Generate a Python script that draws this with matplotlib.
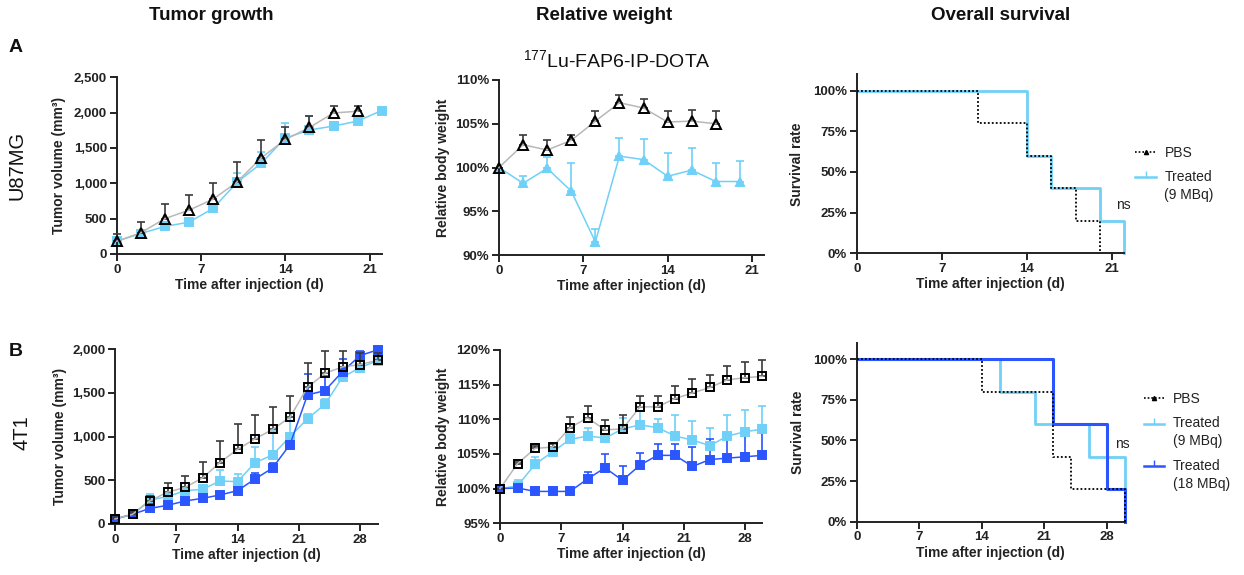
import numpy as np
import matplotlib
matplotlib.use("Agg")
import matplotlib.pyplot as plt
from matplotlib.lines import Line2D
from matplotlib.legend_handler import HandlerLine2D
from matplotlib.ticker import FuncFormatter

plt.rcParams['font.family'] = ['Liberation Sans', 'DejaVu Sans']

# ---------------- data ----------------
# U87MG tumour volume (mm^3), mean and upper SD
u87_tumor_days_pbs = [0, 2, 4, 6, 8, 10, 12, 14, 16, 18, 20]
u87_tumor_pbs = [180, 300, 500, 620, 775, 1020, 1360, 1620, 1790, 1995, 2020]
u87_tumor_pbs_sd = [100, 150, 210, 220, 225, 275, 250, 170, 160, 105, 80]
u87_tumor_days_trt = [0, 2, 4, 6, 8, 10, 12, 14, 16, 18, 20, 22]
u87_tumor_trt = [180, 290, 390, 450, 645, 1015, 1285, 1640, 1755, 1810, 1880, 2030]
u87_tumor_trt_sd = [60, 40, 40, 30, 40, 125, 165, 220, 200, 30, 30, 30]

# U87MG relative body weight (%)
u87_weight_days_pbs = [0, 2, 4, 6, 8, 10, 12, 14, 16, 18]
u87_weight_pbs = [100, 102.6, 102.0, 103.1, 105.3, 107.4, 106.8, 105.2, 105.3, 105.0]
u87_weight_pbs_sd = [0, 1.1, 1.2, 0.6, 1.2, 0.9, 1.0, 1.3, 1.3, 1.5]
u87_weight_days_trt = [0, 2, 4, 6, 8, 10, 12, 14, 16, 18, 20]
u87_weight_trt = [100, 98.2, 99.9, 97.3, 91.5, 101.3, 100.9, 99.0, 99.7, 98.4, 98.4]
u87_weight_trt_sd = [0, 0.8, 1.3, 3.2, 1.5, 2.1, 2.4, 2.7, 2.5, 2.1, 2.3]

# U87MG survival (Kaplan-Meier steps)
u87_surv_t_pbs = [0, 10, 14, 16, 18, 20]
u87_surv_pbs = [100, 80, 60, 40, 20, 0]
u87_surv_t_trt = [0, 14, 16, 20, 22]
u87_surv_trt = [100, 60, 40, 20, 0]

# 4T1 tumour volume (mm^3)
t1_days = [0, 2, 4, 6, 8, 10, 12, 14, 16, 18, 20, 22, 24, 26, 28, 30]
t1_tumor_pbs = [57, 111, 265, 365, 418, 527, 704, 855, 974, 1082, 1222, 1564, 1726, 1798, 1825, 1874]
t1_tumor_pbs_sd = [20, 25, 60, 100, 132, 183, 247, 287, 274, 260, 244, 277, 256, 184, 130, 80]
t1_tumor_lo = [57, 111, 275, 313, 382, 397, 492, 485, 702, 790, 1000, 1205, 1371, 1680, 1790, 1870]
t1_tumor_lo_sd = [15, 20, 69, 40, 40, 40, 126, 88, 184, 280, 270, 60, 60, 60, 40, 40]
t1_tumor_hi = [57, 111, 179, 214, 263, 294, 332, 382, 515, 640, 910, 1478, 1527, 1745, 1928, 1993]
t1_tumor_hi_sd = [15, 20, 25, 25, 25, 25, 30, 30, 73, 60, 60, 237, 170, 141, 54, 20]

# 4T1 relative body weight (%)
t1_weight_pbs = [100, 103.6, 105.8, 106.0, 108.8, 110.2, 108.5, 108.6, 111.8, 111.8, 113.0, 113.8, 114.6, 115.7, 116.0, 116.2]
t1_weight_pbs_sd = [0, 0.3, 0.3, 0.4, 1.5, 1.7, 1.4, 2.0, 1.6, 1.5, 1.8, 2.0, 1.8, 2.0, 2.2, 2.4]
t1_weight_lo = [100, 100.4, 103.5, 105.3, 107.1, 107.6, 107.3, 108.6, 109.2, 108.8, 107.6, 107.0, 106.2, 107.6, 108.2, 108.6]
t1_weight_lo_sd = [0, 0.8, 1.1, 0.6, 0.8, 1.2, 0.6, 1.6, 2.0, 1.3, 3.0, 2.8, 2.5, 3.0, 3.2, 3.3]
t1_weight_hi = [100, 100.1, 99.6, 99.6, 99.6, 101.4, 103.0, 101.2, 103.4, 104.8, 104.8, 103.2, 104.2, 104.4, 104.6, 104.8]
t1_weight_hi_sd = [0, 0.3, 0.2, 0.2, 0.3, 1.0, 2.0, 2.1, 1.8, 1.6, 1.6, 2.8, 3.0, 3.0, 3.2, 3.3]

# 4T1 survival
t1_surv_t_pbs = [0, 14, 22, 24, 30]
t1_surv_pbs = [100, 80, 40, 20, 0]
t1_surv_t_lo = [0, 16, 20, 26, 30]
t1_surv_lo = [100, 80, 60, 40, 0]
t1_surv_t_hi = [0, 22, 28, 30]
t1_surv_hi = [100, 60, 20, 0]

# ---------------- style ----------------
PBS_LINE = '#b8b8b8'
PBS_ERR = '#3a3a3a'
LIGHT = '#6fd0f8'
DARK = '#2a55ff'
INK = '#222222'

W, H = 1244, 575
fig = plt.figure(figsize=(W / 100, H / 100), dpi=100)


def axes_px(left, top, right, bottom):
    return fig.add_axes([left / W, 1 - bottom / H, (right - left) / W, (bottom - top) / H])


def style(ax, xlim, xticks, ylim, yticks, fmt, ylabel, ylab_off):
    ax.set_xlim(*xlim)
    ax.set_ylim(*ylim)
    ax.set_xticks(xticks)
    ax.set_yticks(yticks)
    ax.yaxis.set_major_formatter(FuncFormatter(fmt))
    for s in ('top', 'right'):
        ax.spines[s].set_visible(False)
    for s in ('left', 'bottom'):
        ax.spines[s].set_linewidth(1.4)
        ax.spines[s].set_color(INK)
    ax.tick_params(direction='out', length=5, width=1.4, color=INK,
                   labelsize=9.5, pad=2)
    for lab in ax.get_xticklabels() + ax.get_yticklabels():
        lab.set_fontweight('bold')
        lab.set_color(INK)
    ax.set_xlabel('Time after injection (d)', fontsize=10, fontweight='bold', color=INK)
    ax.set_ylabel(ylabel, fontsize=10, fontweight='bold', color=INK)
    bb = ax.get_position()
    wpx = bb.width * W
    hpx = bb.height * H
    ax.xaxis.set_label_coords(0.5, -24 / hpx)
    ax.yaxis.set_label_coords(-(ylab_off - 9) / wpx, 0.5)
    ax.patch.set_visible(False)


def series(ax, x, y, sd, color, ecolor, marker, ms, mfc, mec, z):
    ax.errorbar(x, y, yerr=[np.zeros(len(sd)), sd], fmt='none', ecolor=ecolor,
                elinewidth=1.2, capsize=3.2, capthick=1.2, zorder=z, clip_on=False)
    ax.plot(x, y, color=color, lw=1.1, marker=marker, ms=ms, mfc=mfc, mec=mec,
            mew=1.4, zorder=z + 0.5, clip_on=False)


class FirstLineHandler(HandlerLine2D):
    """Legend key aligned with the first line of a two-line label."""

    def __init__(self, shift=0.0, **kw):
        super().__init__(**kw)
        self.shift = shift

    def create_artists(self, legend, orig_handle, xdescent, ydescent, width,
                       height, fontsize, trans):
        return super().create_artists(legend, orig_handle, xdescent,
                                      ydescent - 2 * self.shift, width, height,
                                      fontsize, trans)


def survival_legend(ax, handles, labels, anchor_y):
    hmap = {h: FirstLineHandler(shift=(6.8 if '\n' in l else 0.0))
            for h, l in zip(handles, labels)}
    leg = ax.legend(handles, labels, loc='upper left', bbox_to_anchor=(anchor_x(ax), anchor_y),
                    frameon=False, fontsize=10, handlelength=1.5, handletextpad=0.6,
                    labelspacing=0.75, borderaxespad=0, handler_map=hmap)
    for t in leg.get_texts():
        t.set_linespacing(1.38)
        t.set_color(INK)
    return leg


def anchor_x(ax):
    return 1.02 if ax.get_xlim()[1] < 25 else 1.05


thousands = lambda v, p: f'{int(v):,}'
percent = lambda v, p: f'{int(round(v))}%'

# ---- A: U87MG tumour growth ----
ax = axes_px(116.7, 77.3, 381.7, 254)
series(ax, u87_tumor_days_trt, u87_tumor_trt, u87_tumor_trt_sd, LIGHT, LIGHT, 's', 5.5, LIGHT, LIGHT, 2)
series(ax, u87_tumor_days_pbs, u87_tumor_pbs, u87_tumor_pbs_sd, PBS_LINE, PBS_ERR, '^', 6.5, 'none', 'black', 3)
style(ax, (0, 22), [0, 7, 14, 21], (0, 2500), [0, 500, 1000, 1500, 2000, 2500],
      thousands, 'Tumor volume (mm³)', 60)

# ---- A: U87MG body weight ----
ax = axes_px(499, 80, 764, 255)
series(ax, u87_weight_days_trt, u87_weight_trt, u87_weight_trt_sd, LIGHT, LIGHT, '^', 5.5, LIGHT, LIGHT, 2)
series(ax, u87_weight_days_pbs, u87_weight_pbs, u87_weight_pbs_sd, PBS_LINE, PBS_ERR, '^', 6.5, 'none', 'black', 3)
style(ax, (0, 22), [0, 7, 14, 21], (90, 110), [90, 95, 100, 105, 110],
      percent, 'Relative body weight', 58)

# ---- A: U87MG survival ----
h_pbs = Line2D([], [], color='black', lw=1.2, ls=(0, (1, 1.2)), marker='^', ms=3)
h_lo = Line2D([], [], color=LIGHT, lw=1.8, marker=2, ms=4)
h_hi = Line2D([], [], color=DARK, lw=1.8, marker=2, ms=4)

ax = axes_px(856.7, 74.4, 1124.4, 253.3)
ax.step(u87_surv_t_trt, u87_surv_trt, where='post', color=LIGHT, lw=2, zorder=2, clip_on=False)
ax.step(u87_surv_t_pbs, u87_surv_pbs, where='post', color='black', lw=1.3,
        ls=(0, (1, 1.2)), zorder=3, clip_on=False)
style(ax, (0, 22), [0, 7, 14, 21], (0, 110), [0, 25, 50, 75, 100],
      percent, 'Survival rate', 62)
ax.text(21.9, 30, 'ns', fontsize=10, ha='center', va='center', color=INK)
survival_legend(ax, [h_pbs, h_lo], ['PBS', 'Treated\n(9 MBq)'], 0.632)

# ---- B: 4T1 tumour growth ----
ax = axes_px(115, 349.3, 377.5, 524)
series(ax, t1_days, t1_tumor_lo, t1_tumor_lo_sd, LIGHT, LIGHT, 's', 5.5, LIGHT, LIGHT, 2)
series(ax, t1_days, t1_tumor_hi, t1_tumor_hi_sd, DARK, DARK, 's', 5.5, DARK, DARK, 2.2)
series(ax, t1_days, t1_tumor_pbs, t1_tumor_pbs_sd, PBS_LINE, PBS_ERR, 's', 6.2, 'none', 'black', 3)
style(ax, (0, 30), [0, 7, 14, 21, 28], (0, 2000), [0, 500, 1000, 1500, 2000],
      thousands, 'Tumor volume (mm³)', 57)

# ---- B: 4T1 body weight ----
ax = axes_px(500, 350, 762.5, 523.3)
series(ax, t1_days, t1_weight_lo, t1_weight_lo_sd, LIGHT, LIGHT, 's', 5.5, LIGHT, LIGHT, 2)
series(ax, t1_days, t1_weight_hi, t1_weight_hi_sd, DARK, DARK, 's', 5.5, DARK, DARK, 2.2)
series(ax, t1_days, t1_weight_pbs, t1_weight_pbs_sd, PBS_LINE, PBS_ERR, 's', 6.2, 'none', 'black', 3)
style(ax, (0, 30), [0, 7, 14, 21, 28], (95, 120), [95, 100, 105, 110, 115, 120],
      percent, 'Relative body weight', 59)

# ---- B: 4T1 survival ----
ax = axes_px(856.7, 343, 1124.6, 521.7)
ax.step(t1_surv_t_lo, t1_surv_lo, where='post', color=LIGHT, lw=2, zorder=2, clip_on=False)
ax.step(t1_surv_t_hi, t1_surv_hi, where='post', color=DARK, lw=2.2, zorder=2.5, clip_on=False)
ax.step(t1_surv_t_pbs, t1_surv_pbs, where='post', color='black', lw=1.3,
        ls=(0, (1, 1.2)), zorder=3, clip_on=False)
style(ax, (0, 30), [0, 7, 14, 21, 28], (0, 110), [0, 25, 50, 75, 100],
      percent, 'Survival rate', 61)
ax.text(29.8, 48, 'ns', fontsize=10, ha='center', va='center', color=INK)
survival_legend(ax, [h_pbs, h_lo, h_hi], ['PBS', 'Treated\n(9 MBq)', 'Treated\n(18 MBq)'], 0.758)

# ---------------- headers ----------------
def ftext(x, y, s, **kw):
    fig.text(x / W, 1 - y / H, s, color='#111111', **kw)

ftext(211, 16, 'Tumor growth', fontsize=13.5, fontweight='bold', ha='center', va='center')
ftext(604, 16, 'Relative weight', fontsize=13.5, fontweight='bold', ha='center', va='center')
ftext(1001, 16, 'Overall survival', fontsize=13.5, fontweight='bold', ha='center', va='center')
ftext(16, 48, 'A', fontsize=14, fontweight='bold', ha='center', va='center')
ftext(16, 352, 'B', fontsize=14, fontweight='bold', ha='center', va='center')
ftext(17, 165, 'U87MG', fontsize=14.5, rotation=90, ha='center', va='center')
ftext(22, 433, '4T1', fontsize=14.5, rotation=90, ha='center', va='center')
ftext(617, 60, '$\\mathregular{^{177}}$Lu-FAP6-IP-DOTA', fontsize=14, ha='center', va='center')

fig.savefig('out.png', dpi=100, facecolor='white')
